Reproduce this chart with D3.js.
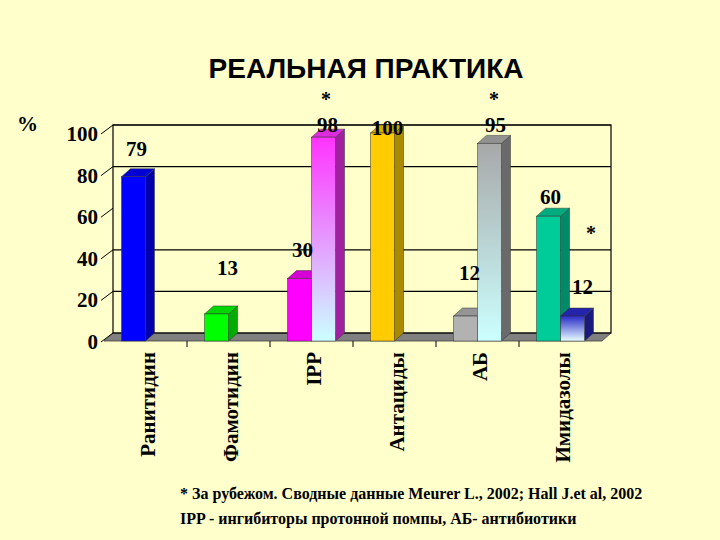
<!DOCTYPE html>
<html>
<head>
<meta charset="utf-8">
<script src="https://cdn.jsdelivr.net/npm/d3@7"></script>
<style>
  body { margin: 0; background: #FFFFCC; }
  svg { display: block; }
</style>
</head>
<body>
<svg id="chart" width="720" height="540"></svg>
<script>
const categories = ["Ранитидин", "Фамотидин", "IPP", "Антациды", "АБ", "Имидазолы"];
const realValues = [79, 13, 30, 100, 12, 60];
const abroadValues = [null, null, 98, null, 95, 12];
const yTicks = [0, 20, 40, 60, 80, 100];
const gridValues = [20, 40, 80, 100];
const starCats = ["IPP", "АБ", "Имидазолы"];

const realColors = ["#0000FF", "#00FF00", "#FF00FF", "#FFCC00", "#B2B2B2", "#00CC99"];
const abroadTops = {"IPP": "#FF33FF", "АБ": "#A8A8A8", "Имидазолы": "#2A2AC8"};
const abroadBottoms = {"IPP": "#CCFFFF", "АБ": "#CCFFFF", "Имидазолы": "#E8FFFF"};

// label nudges (excel 3d places them a bit oddly): [dx, dy of text centre from bar top]
const realNudge = [[3, -28], [11, -46], [3, -29], [5, -5], [4, -43], [2, -19]];
const abroadNudge = [null, null, [4, -12], null, [6, -18], [10, -29]];

const svg = d3.select("#chart");
const dx = 9, dy = -8;   // 3D depth offset

const x = d3.scaleBand().domain(categories).range([104, 602]);
const inner = d3.scaleBand().domain(["a", "b"]).range([0, 48]);
const y = d3.scaleLinear().domain([0, 100]).range([341, 133]);
const groupOff = (x.bandwidth() - 48) / 2;

function shade(c, k) {
  return d3.color(c).darker(k).formatHex();
}

// title
svg.append("text")
  .attr("x", 366).attr("y", 78)
  .attr("text-anchor", "middle")
  .style("font-family", "Liberation Sans, Arial, sans-serif")
  .style("font-weight", "bold").style("font-size", "28px")
  .text("РЕАЛЬНАЯ ПРАКТИКА");

svg.append("text")
  .attr("x", 17).attr("y", 131)
  .style("font-family", "Liberation Serif, serif")
  .style("font-weight", "bold").style("font-size", "21px")
  .text("%");

// back wall + floor
const x0 = x.range()[0], x1 = x.range()[1];
svg.append("polygon")
  .attr("points", [[x0, y(0)], [x0 + dx, y(0) + dy], [x1 + dx, y(0) + dy], [x1, y(0)]].join(" "))
  .attr("fill", "#808080").attr("stroke", "#404040").attr("stroke-width", 0.8);

svg.append("rect")
  .attr("x", x0 + dx).attr("y", y(100) + dy)
  .attr("width", x1 - x0).attr("height", y(0) - y(100))
  .attr("fill", "none").attr("stroke", "#000").attr("stroke-width", 1.2);

svg.selectAll(".grid").data(gridValues).enter().append("line")
  .attr("x1", x0 + dx).attr("x2", x1 + dx)
  .attr("y1", d => y(d) + dy).attr("y2", d => y(d) + dy)
  .attr("stroke", "#000").attr("stroke-width", 1.2);

// y ticks (diagonal)
svg.selectAll(".ytick").data(yTicks).enter().append("line")
  .attr("x1", x0 - 3).attr("y1", d => y(d) + 1)
  .attr("x2", x0 + dx).attr("y2", d => y(d) + dy)
  .attr("stroke", "#000").attr("stroke-width", 1);

svg.selectAll(".ylab").data(yTicks).enter().append("text")
  .attr("x", x0 - 6).attr("y", d => y(d) + 8)
  .attr("text-anchor", "end")
  .style("font-family", "Liberation Serif, serif")
  .style("font-weight", "bold").style("font-size", "21px")
  .text(d => d);

// x ticks
svg.selectAll(".xtick").data(categories.slice(1)).enter().append("line")
  .attr("x1", d => x(d)).attr("x2", d => x(d))
  .attr("y1", y(0)).attr("y2", y(0) + 6)
  .attr("stroke", "#000");

// gradients
const defs = svg.append("defs");
Object.keys(abroadTops).forEach((k, i) => {
  const g = defs.append("linearGradient").attr("id", "grad" + i)
    .attr("x1", 0).attr("y1", 0).attr("x2", 0).attr("y2", 1);
  g.append("stop").attr("offset", "0%").attr("stop-color", abroadTops[k]);
  g.append("stop").attr("offset", "100%").attr("stop-color", abroadBottoms[k]);
});

function bar3d(bx, w, v, front, side, top) {
  const g = svg.append("g");
  const yt = y(v), yb = y(0);
  g.append("polygon")
    .attr("points", [[bx + w, yt], [bx + w + dx, yt + dy], [bx + w + dx, yb + dy], [bx + w, yb]].join(" "))
    .attr("fill", side).attr("stroke", "#333").attr("stroke-width", 0.5);
  g.append("polygon")
    .attr("points", [[bx, yt], [bx + dx, yt + dy], [bx + w + dx, yt + dy], [bx + w, yt]].join(" "))
    .attr("fill", top).attr("stroke", "#333").attr("stroke-width", 0.5);
  g.append("rect")
    .attr("x", bx).attr("y", yt).attr("width", w).attr("height", yb - yt)
    .attr("fill", front).attr("stroke", "#333").attr("stroke-width", 0.5);
}

const labelStyle = sel => sel
  .attr("text-anchor", "middle")
  .style("font-family", "Liberation Serif, serif")
  .style("font-weight", "bold").style("font-size", "21px");

categories.forEach((c, i) => {
  const bx = x(c) + groupOff + inner("a");
  const w = inner.bandwidth();
  const v = realValues[i];
  bar3d(bx, w, v, realColors[i], shade(realColors[i], 1.1), shade(realColors[i], 0.5));
  const v2 = abroadValues[i];
  if (v2 != null) {
    const gi = Object.keys(abroadTops).indexOf(c);
    const bx2 = x(c) + groupOff + inner("b");
    bar3d(bx2, w, v2, "url(#grad" + gi + ")", shade(abroadTops[c], 1.3), shade(abroadTops[c], 0.4));
  }
});

// value labels
categories.forEach((c, i) => {
  const v = realValues[i];
  const cx = x(c) + groupOff + inner("a") + inner.bandwidth() / 2;
  svg.append("text").call(labelStyle)
    .attr("x", cx + realNudge[i][0])
    .attr("y", y(v) + realNudge[i][1] + 7)
    .text(v);
  const v2 = abroadValues[i];
  if (v2 != null) {
    const cx2 = x(c) + groupOff + inner("b") + inner.bandwidth() / 2;
    svg.append("text").call(labelStyle)
      .attr("x", cx2 + abroadNudge[i][0])
      .attr("y", y(v2) + abroadNudge[i][1] + 7)
      .text(v2);
  }
});

// asterisks
const starPos = {"IPP": [326, 106], "АБ": [494, 106], "Имидазолы": [591, 240]};
starCats.forEach(c => {
  svg.append("text")
    .attr("x", starPos[c][0]).attr("y", starPos[c][1])
    .attr("text-anchor", "middle")
    .style("font-family", "Liberation Serif, serif")
    .style("font-weight", "bold").style("font-size", "20px")
    .text("*");
});

// category labels (rotated)
svg.selectAll(".xlab").data(categories).enter().append("text")
  .attr("transform", d => "translate(" + (x(d) + x.bandwidth() / 2 + 9) + "," + (y(0) + 11) + ") rotate(-90)")
  .attr("text-anchor", "end")
  .style("font-family", "Liberation Serif, serif")
  .style("font-weight", "bold").style("font-size", "21px")
  .text(d => d);

// footnotes
const notes = [
  "* За рубежом. Сводные данные Meurer L., 2002; Hall J.et al, 2002",
  "IPP - ингибиторы протонной помпы, АБ- антибиотики"
];
svg.selectAll(".note").data(notes).enter().append("text")
  .attr("x", 180).attr("y", (d, i) => 499 + i * 25)
  .style("font-family", "Liberation Serif, serif")
  .style("font-weight", "bold").style("font-size", "16px")
  .text(d => d);
</script>
</body>
</html>
